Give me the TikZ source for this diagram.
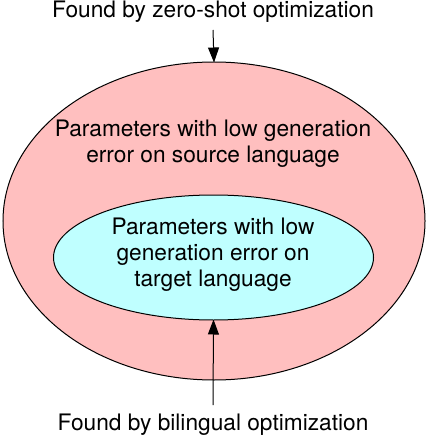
\documentclass[tikz,border=0pt]{standalone}
\usepackage{fontspec}
\setmainfont{TeX Gyre Heros}
\usetikzlibrary{shapes.geometric,arrows.meta}
\definecolor{pinkfill}{HTML}{FFBFBF}
\definecolor{cyanfill}{HTML}{BFFFFF}
\tikzset{
  region/.style={ellipse, draw=black, line width=1pt, inner sep=0pt, outer sep=0pt},
  lbl/.style={font=\fontsize{22.7}{26}\selectfont, align=center, inner sep=0pt, text=black},
  arr/.style={-{Triangle[length=15pt,width=11pt]}, line width=1pt, shorten >=-0.5pt},
}
\begin{document}
\begin{tikzpicture}[x=1pt,y=-1pt]
\useasboundingbox (0,0) rectangle (426,438);
\node[region, fill=pinkfill, minimum width=422pt, minimum height=318pt] (src) at (214,221) {};
\node[region, fill=cyanfill, minimum width=320pt, minimum height=125pt] (tgt) at (213.5,257.5) {};
\node[lbl] (srctext) at (213,144) {Parameters with low generation\\error on source language};
\node[lbl] (tgttext) at (213,255) {Parameters with low\\generation error on\\target language};
\node[lbl] (zs) at (213,12) {Found by zero-shot optimization};
\node[lbl] (bi) at (213,425) {Found by bilingual optimization};
\coordinate (zsend) at (213,30);
\coordinate (biend) at (213,405);
\draw[arr] (zsend) -- (src.north);
\draw[arr] (biend) -- (tgt.south);
\end{tikzpicture}
\end{document}
